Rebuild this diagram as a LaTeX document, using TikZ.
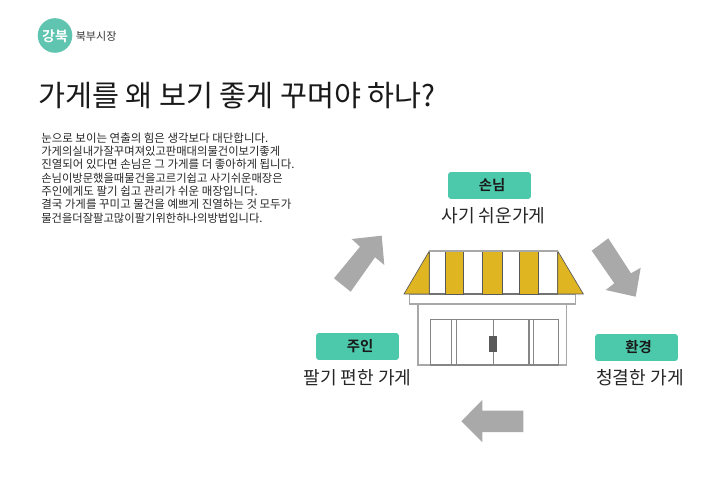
\documentclass[tikz,border=0pt]{standalone}
\usepackage{fontspec}
\setmainfont{Noto Sans CJK KR}
\newfontfamily\kbold{Noto Sans CJK KR Bold}
\definecolor{mint}{HTML}{4CC9AB}
\definecolor{logomint}{HTML}{5FC4B0}
\definecolor{awn}{HTML}{E0B522}
\definecolor{arrowgray}{HTML}{A9A9A9}
\definecolor{shopline}{HTML}{A8A8A8}
\tikzset{
 badge/.style={fill=mint,rounded corners=2.2pt,minimum width=62.2pt,minimum height=20.2pt,inner sep=0},
 badgetext/.style={inner sep=0,font=\kbold\fontsize{10.8pt}{12pt}\selectfont,text=black!90},
 caption/.style={inner sep=0,font=\fontsize{13.6pt}{15pt}\selectfont,text=black!85},
 bodyline/.style={anchor=west,inner sep=0,font=\fontsize{8.6pt}{9pt}\selectfont,text=black!85},
 tightline/.style={anchor=west,inner sep=0,font=\fontsize{8.47pt}{9pt}\selectfont,text=black!85},
 bigarrow/.style={fill=arrowgray,draw=none},
 shopedge/.style={draw=shopline,line width=0.8pt,fill=white},
 doorline/.style={draw=shopline!80!black,line width=0.8pt},
 awnfill/.style={fill=awn,draw=black!65,line width=0.5pt},
}
\begin{document}
\begin{tikzpicture}[x=0.75pt,y=-0.75pt]
\useasboundingbox (0,0) rectangle (720,498);
% logo
\fill[logomint] (55,35.5) circle (17.3);
\node[inner sep=0,text=white,font=\kbold\fontsize{10.5pt}{10pt}\selectfont] (logoa) at (55,36) {강북};
\node[anchor=west,inner sep=0,text=black!80,font=\fontsize{8.3pt}{9pt}\selectfont] (logob) at (75.5,36) {북부시장};
% title
\node[anchor=west,inner sep=0,font=\fontsize{22pt}{24pt}\selectfont,text=black!90] (title) at (38,96) {가게를 왜 보기 좋게 꾸며야 하나?};
% body
\node[bodyline] (l1) at (41,138.5) {눈으로 보이는 연출의 힘은 생각보다 대단합니다.};
\node[tightline] (l2) at (41,151) {가게의실내가잘꾸며져있고판매대의물건이보기좋게};
\node[bodyline] (l3) at (41,164.5) {진열되어 있다면 손님은 그 가게를 더 좋아하게 됩니다.};
\node[tightline] (l4) at (41,178) {손님이방문했을때물건을고르기쉽고 사기쉬운매장은};
\node[bodyline] (l5) at (41,191) {주인에게도 팔기 쉽고 관리가 쉬운 매장입니다.};
\node[bodyline] (l6) at (41,204) {결국 가게를 꾸미고 물건을 예쁘게 진열하는 것 모두가};
\node[tightline] (l7) at (41,218.5) {물건을더잘팔고많이팔기위한하나의방법입니다.};
% badges
\node[badge] (guest) at (489.5,185.5) {};
\node[badgetext] (guestt) at (492,185.5) {손님};
\node[caption] (guestcap) at (493.5,216) {사기 쉬운가게};
\node[badge] (owner) at (357.5,346.5) {};
\node[badgetext] (ownert) at (360,346.5) {주인};
\node[caption] (ownercap) at (357.5,377.5) {팔기 편한 가게};
\node[badge] (env) at (636.5,347.5) {};
\node[badgetext] (envt) at (638.5,347.5) {환경};
\node[caption] (envcap) at (640,377.5) {청결한 가게};
% arrows
\fill[bigarrow] (334,278.3) -- (360,246.7) -- (351.7,239) -- (381.7,235.7) -- (384.3,265) -- (375,257.3) -- (350.7,291.7) -- cycle;
\fill[bigarrow] (591.7,250.7) -- (608.3,238.3) -- (631,273.3) -- (640.7,267.7) -- (635.7,296.7) -- (605.7,290) -- (614.3,283.3) -- cycle;
\fill[bigarrow] (461.3,421.3) -- (482.3,400) -- (482.3,410.7) -- (523.3,410.7) -- (523.3,432) -- (482.3,432) -- (482.3,442.3) -- cycle;
% shop
\draw[shopedge] (418,304) rectangle (566.7,365);
\draw[doorline] (430.7,319.3) rectangle (558.7,365);
\foreach \vx in {451.7,456.7,493.3,529,533.7}{\draw[doorline] (\vx,319.3) -- (\vx,365);}
\fill[black!65] (489.3,335.7) rectangle (497.3,351.7);
\draw[shopedge] (409.3,294) rectangle (575.7,304);
\draw[shopedge,draw=black!55] (429.3,251) -- (557.7,251) -- (557.7,294) -- (429.3,294) -- cycle;
\draw[awnfill] (404,294) -- (429.3,251) -- (429.3,294) -- cycle;
\draw[awnfill] (583.3,294) -- (557.7,251) -- (557.7,294) -- cycle;
\draw[awnfill] (445.3,251) rectangle (463.7,294);
\draw[awnfill] (482.7,251) rectangle (502,294);
\draw[awnfill] (519.3,251) rectangle (538.7,294);
\draw[draw=shopline,line width=0.9pt] (429.3,251) -- (557.7,251);
\end{tikzpicture}
\end{document}
